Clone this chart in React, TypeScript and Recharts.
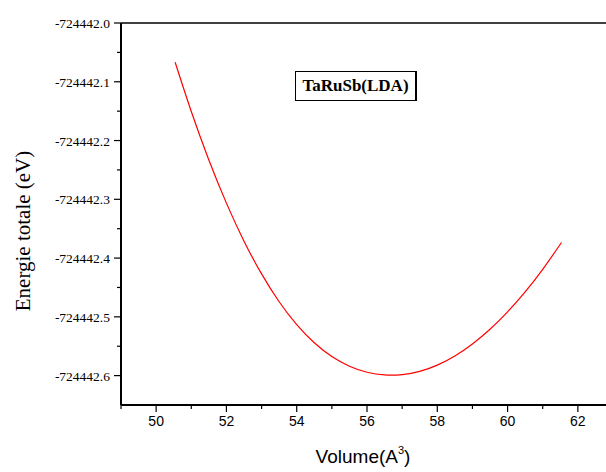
import React from "react";
import { LineChart, Line, XAxis, YAxis, ReferenceLine } from "recharts";

const volumes = [50.54, 51, 51.5, 52, 52.5, 53, 53.5, 54, 54.5, 55, 55.5, 56, 56.5, 57, 57.5, 58, 58.5, 59, 59.5, 60, 60.5, 61, 61.535];
const energies = [
  -724442.0668, -724442.1506, -724442.233, -724442.3065, -724442.3712, -724442.4269, -724442.4743, -724442.5131,
  -724442.544, -724442.5676, -724442.5841, -724442.5943, -724442.5988, -724442.5983, -724442.5927, -724442.5821,
  -724442.5665, -724442.5461, -724442.5211, -724442.4915, -724442.4575, -724442.4191, -724442.3735,
];

const xMajorTicks = [50, 52, 54, 56, 58, 60, 62];
const xMinorTicks = [49, 51, 53, 55, 57, 59, 61, 63];
const yMajorTicks = [-724442.0, -724442.1, -724442.2, -724442.3, -724442.4, -724442.5, -724442.6];
const yMinorTicks = [-724442.05, -724442.15, -724442.25, -724442.35, -724442.45, -724442.55];
const xDomain = [49, 63];
const yDomain = [-724442.65, -724442.0];

const seriesName = "TaRuSb(LDA)";
const xTitle = "Volume(A";
const xTitleSup = "3";
const xTitleEnd = ")";
const yTitle = "Energie totale (eV)";

const data = volumes.map((v, i) => ({ v, e: energies[i] }));
const xTicks = [...xMajorTicks, ...xMinorTicks].sort((a, b) => a - b);
const yTicks = [...yMajorTicks, ...yMinorTicks].sort((a, b) => a - b);

const isMajor = (list: number[], val: number) => list.some((t) => Math.abs(t - val) < 1e-6);

const SANS = "'Liberation Sans', Arial, sans-serif";
const SERIF = "'Liberation Serif', 'Times New Roman', serif";

const XTick = (props: any) => {
  const { x, y, payload } = props;
  const major = isMajor(xMajorTicks, payload.value);
  return (
    <g>
      <line x1={x} x2={x} y1={y} y2={y + (major ? 7 : 4)} stroke="#000" strokeWidth={1.2} />
      {major && (
        <text x={x} y={y + 21} textAnchor="middle" fontFamily={SANS} fontSize={14} fill="#000">
          {payload.value}
        </text>
      )}
    </g>
  );
};

const YTick = (props: any) => {
  const { x, y, payload } = props;
  const major = isMajor(yMajorTicks, payload.value);
  return (
    <g>
      <line x1={x - (major ? 7 : 4)} x2={x} y1={y} y2={y} stroke="#000" strokeWidth={1.2} />
      {major && (
        <text x={x - 11} y={y + 5} textAnchor="end" fontFamily={SERIF} fontSize={13.5} fill="#000">
          {Number(payload.value).toFixed(1)}
        </text>
      )}
    </g>
  );
};

const XTitle = (props: any) => {
  const vb = props.viewBox || { x: 0, y: 0, width: 0, height: 0 };
  const cx = vb.x + vb.width / 2 - 4;
  return (
    <text x={cx} y={vb.y + 58} textAnchor="middle" fontFamily={SANS} fontSize={19} fill="#000">
      {xTitle}
      <tspan dy={-9} fontSize={11}>{xTitleSup}</tspan>
      <tspan dy={9}>{xTitleEnd}</tspan>
    </text>
  );
};

const YTitle = (props: any) => {
  const vb = props.viewBox || { x: 0, y: 0, width: 0, height: 0 };
  const cx = 30;
  const cy = vb.y + vb.height / 2 + 17;
  return (
    <text x={cx} y={cy} transform={`rotate(-90 ${cx} ${cy})`} textAnchor="middle" fontFamily={SERIF} fontSize={21} fill="#000">
      {yTitle}
    </text>
  );
};

export default function App() {
  return (
    <div style={{ position: "absolute", left: 0, top: 0, width: 606, height: 472, overflow: "hidden", background: "#fff" }}>
      <LineChart width={616} height={472} data={data} margin={{ top: 23, right: 3, bottom: 0, left: 0 }}>
        <XAxis
          dataKey="v"
          type="number"
          domain={xDomain}
          ticks={xTicks}
          interval={0}
          allowDataOverflow
          tickSize={0}
          tickMargin={0}
          tickLine={false}
          tick={<XTick />}
          axisLine={{ stroke: "#000", strokeWidth: 2 }}
          height={67}
          label={<XTitle />}
        />
        <YAxis
          dataKey="e"
          type="number"
          domain={yDomain}
          ticks={yTicks}
          interval={0}
          allowDataOverflow
          tickSize={0}
          tickMargin={0}
          tickLine={false}
          tick={<YTick />}
          axisLine={{ stroke: "#000", strokeWidth: 2 }}
          width={121}
          label={<YTitle />}
        />
        <ReferenceLine y={yDomain[1]} stroke="#000" strokeWidth={1.5} ifOverflow="visible" />
        <Line type="natural" dataKey="e" stroke="#ff0000" strokeWidth={1.2} dot={false} isAnimationActive={false} />
      </LineChart>
      <div
        style={{
          position: "absolute",
          left: 295,
          top: 71,
          width: 119,
          height: 28,
          border: "1px solid #000",
          borderRightWidth: 2,
          fontFamily: SERIF,
          fontWeight: "bold",
          fontSize: 17,
          lineHeight: "28px",
          textAlign: "center",
          color: "#000",
        }}
      >
        {seriesName}
      </div>
    </div>
  );
}
